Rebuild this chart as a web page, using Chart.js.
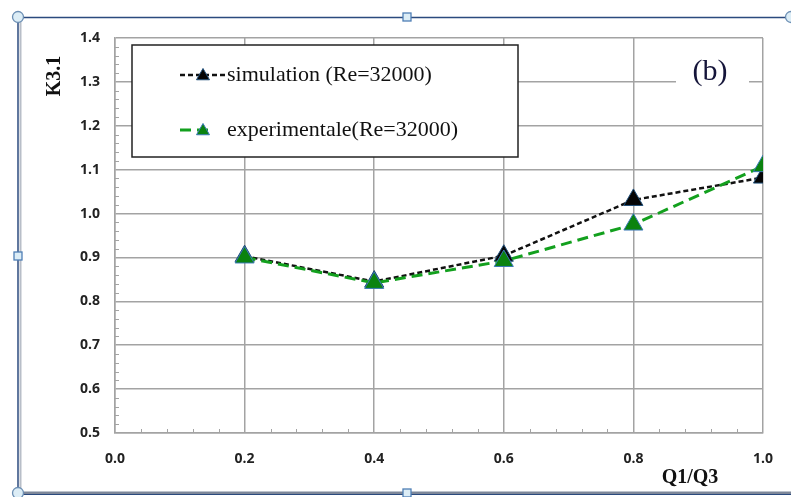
<!DOCTYPE html>
<html>
<head>
<meta charset="utf-8">
<script src="https://cdn.jsdelivr.net/npm/chart.js@4/dist/chart.umd.min.js"></script>
<style>
  html, body { margin: 0; padding: 0; background: #fff; }
  #wrap { width: 791px; height: 497px; position: relative; }
</style>
</head>
<body>
<div id="wrap"><canvas id="c" width="791" height="497"></canvas></div>
<script>
// Flow ratio Q1/Q3 and loss coefficient K3.1
const ratios = [0.2, 0.4, 0.6, 0.8, 1.0];
const simulation = [0.903, 0.845, 0.904, 1.031, 1.082];
const experimental = [0.900, 0.842, 0.892, 0.975, 1.108];

const simLabel = 'simulation (Re=32000)';
const expLabel = 'experimentale(Re=32000)';
const panelTag = '(b)';
const xTitle = 'Q1/Q3';
const yTitle = 'K3.1';

const xTickValues = [0.0, 0.2, 0.4, 0.6, 0.8, 1.0];
const yTickValues = [0.5, 0.6, 0.7, 0.8, 0.9, 1.0, 1.1, 1.2, 1.3, 1.4];

const GRID = '#a3a3a3';
const SERIF = '"Liberation Serif", "DejaVu Serif", serif';

function pts(xs, ys) { return xs.map((x, i) => ({ x, y: ys[i] })); }

// Frame of the embedded picture with its selection handles
const framePlugin = {
  id: 'frame',
  afterDraw(chart) {
    const ctx = chart.ctx;
    ctx.save();
    // left border: blue line with a grey inner line
    ctx.strokeStyle = '#b8bec8'; ctx.lineWidth = 2;
    ctx.beginPath(); ctx.moveTo(20.5, 17); ctx.lineTo(20.5, 493); ctx.stroke();
    ctx.strokeStyle = '#2b4a7e'; ctx.lineWidth = 1.5;
    ctx.beginPath(); ctx.moveTo(18, 17); ctx.lineTo(18, 493); ctx.stroke();
    // top border
    ctx.beginPath(); ctx.moveTo(18, 17.5); ctx.lineTo(791, 17.5); ctx.stroke();
    // bottom border
    ctx.strokeStyle = '#7d8799'; ctx.lineWidth = 3;
    ctx.beginPath(); ctx.moveTo(18, 493); ctx.lineTo(791, 493); ctx.stroke();
    ctx.strokeStyle = '#2b4a7e'; ctx.lineWidth = 1;
    ctx.beginPath(); ctx.moveTo(18, 494.5); ctx.lineTo(791, 494.5); ctx.stroke();
    // handles
    ctx.fillStyle = '#dcedf6'; ctx.strokeStyle = '#6c8fb4'; ctx.lineWidth = 1.3;
    [[18, 17], [18, 493], [791, 17]].forEach(([x, y]) => {
      ctx.beginPath(); ctx.arc(x, y, 5.5, 0, Math.PI * 2); ctx.fill(); ctx.stroke();
    });
    ctx.strokeStyle = '#4f7fb5';
    [[407, 17], [18, 256], [407, 493]].forEach(([x, y]) => {
      ctx.fillRect(x - 4, y - 4, 8, 8); ctx.strokeRect(x - 4, y - 4, 8, 8);
    });
    ctx.restore();
  }
};

// Inner minor tick marks on both axes
const minorTicksPlugin = {
  id: 'minorTicks',
  afterDraw(chart) {
    const { ctx, scales: { x, y } } = chart;
    ctx.save();
    ctx.strokeStyle = GRID; ctx.lineWidth = 1;
    for (let k = 0; k <= 45; k++) {
      if (k % 5 === 0) continue;
      const py = Math.round(y.getPixelForValue(0.5 + k * 0.02)) + 0.5;
      ctx.beginPath(); ctx.moveTo(x.left, py); ctx.lineTo(x.left + 4, py); ctx.stroke();
    }
    for (let k = 0; k <= 25; k++) {
      if (k % 5 === 0) continue;
      const px = Math.round(x.getPixelForValue(k * 0.04)) + 0.5;
      ctx.beginPath(); ctx.moveTo(px, y.bottom); ctx.lineTo(px, y.bottom - 4); ctx.stroke();
    }
    ctx.restore();
  }
};

// Boxed legend, panel tag and axis titles
const annotatePlugin = {
  id: 'annotate',
  afterDraw(chart) {
    const ctx = chart.ctx;
    const ds = chart.data.datasets;
    ctx.save();

    // panel tag on a white patch
    ctx.fillStyle = '#fff';
    ctx.fillRect(676, 60, 73, 26);
    ctx.fillStyle = '#15153a';
    ctx.font = '30px ' + SERIF;
    ctx.textAlign = 'center'; ctx.textBaseline = 'middle';
    ctx.fillText(panelTag, 710, 72);

    // legend box
    const bx = 132, by = 45, bw = 386, bh = 112;
    ctx.fillStyle = '#fff';
    ctx.fillRect(bx, by, bw, bh);
    ctx.strokeStyle = '#222'; ctx.lineWidth = 1.5;
    ctx.strokeRect(bx, by, bw, bh);

    const rows = [
      { d: ds[0], y: 75, x0: 180, x1: 226, mx: 203 },
      { d: ds[1], y: 130, x0: 180, x1: 214, mx: 203 }
    ];
    rows.forEach(r => {
      ctx.strokeStyle = r.d.borderColor;
      ctx.lineWidth = r.d.borderWidth;
      ctx.setLineDash(r.d.borderDash);
      ctx.beginPath(); ctx.moveTo(r.x0, r.y); ctx.lineTo(r.x1, r.y); ctx.stroke();
      ctx.setLineDash([]);
      const rr = 7.5;
      ctx.fillStyle = r.d.pointBackgroundColor;
      ctx.strokeStyle = r.d.pointBorderColor;
      ctx.lineWidth = 1;
      ctx.beginPath();
      ctx.moveTo(r.mx, r.y + 1 - rr);
      ctx.lineTo(r.mx + rr * 0.866, r.y + 1 + rr / 2);
      ctx.lineTo(r.mx - rr * 0.866, r.y + 1 + rr / 2);
      ctx.closePath(); ctx.fill(); ctx.stroke();
      ctx.fillStyle = '#111';
      ctx.font = '22px ' + SERIF;
      ctx.textAlign = 'left'; ctx.textBaseline = 'middle';
      ctx.fillText(r.d.label, 227, r.y);
    });

    // axis titles
    ctx.fillStyle = '#111';
    ctx.font = 'bold 20px ' + SERIF;
    ctx.textAlign = 'center'; ctx.textBaseline = 'middle';
    ctx.fillText(xTitle, 690, 478);
    ctx.translate(55, 76);
    ctx.rotate(-Math.PI / 2);
    ctx.fillText(yTitle, 0, 0);
    ctx.restore();
  }
};

new Chart(document.getElementById('c'), {
  type: 'line',
  data: {
    datasets: [
      {
        label: simLabel,
        data: pts(ratios, simulation),
        borderColor: '#111111',
        borderWidth: 2.5,
        borderDash: [5, 3],
        pointStyle: 'triangle',
        pointRadius: 11,
        pointBackgroundColor: '#050505',
        pointBorderColor: '#1f4e79',
        pointBorderWidth: 1,
        order: 2
      },
      {
        label: expLabel,
        data: pts(ratios, experimental),
        borderColor: '#13a01e',
        borderWidth: 3,
        borderDash: [11, 6],
        pointStyle: 'triangle',
        pointRadius: 11,
        pointBackgroundColor: '#0b830f',
        pointBorderColor: '#3a78b5',
        pointBorderWidth: 1,
        order: 1
      }
    ]
  },
  options: {
    responsive: false,
    animation: false,
    devicePixelRatio: 1,
    layout: { padding: { left: 0, top: 38, right: 26, bottom: 0 } },
    plugins: { legend: { display: false }, tooltip: { enabled: false } },
    scales: {
      x: {
        type: 'linear', min: 0, max: 1,
        afterBuildTicks: s => { s.ticks = xTickValues.map(v => ({ value: v })); },
        afterFit: s => { s.height = 64; },
        grid: { color: GRID, lineWidth: 1.5, drawTicks: false },
        border: { color: GRID, width: 1.5 },
        ticks: {
          padding: 18,
          color: '#222',
          font: { family: '"Open Sans", sans-serif', size: 14, weight: 'bold' },
          callback: v => Number(v).toFixed(1)
        }
      },
      y: {
        type: 'linear', min: 0.5, max: 1.4,
        afterBuildTicks: s => { s.ticks = yTickValues.map(v => ({ value: v })); },
        afterFit: s => { s.width = 115; },
        grid: { color: GRID, lineWidth: 1.5, drawTicks: false },
        border: { color: GRID, width: 1.5 },
        ticks: {
          padding: 15,
          color: '#222',
          font: { family: '"Open Sans", sans-serif', size: 14, weight: 'bold' },
          callback: v => Number(v).toFixed(1)
        }
      }
    }
  },
  plugins: [minorTicksPlugin, annotatePlugin, framePlugin]
});
</script>
</body>
</html>
